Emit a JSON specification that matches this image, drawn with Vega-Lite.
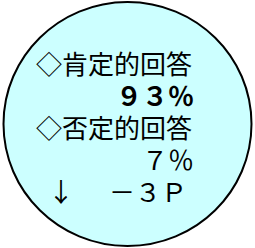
{
  "$schema": "https://vega.github.io/schema/vega-lite/v6.json",
  "width": 255,
  "height": 248,
  "autosize": {"type": "fit", "contains": "padding"},
  "padding": 0,
  "background": "white",
  "view": {"stroke": null},
  "data": {"values": [
    {"line": 1, "col": "left", "text": "◇肯定的回答"},
    {"line": 2, "col": "right", "text": "９３％"},
    {"line": 3, "col": "left", "text": "◇否定的回答"},
    {"line": 4, "col": "right", "text": "７％"},
    {"line": 5, "col": "left", "text": "↓"},
    {"line": 5, "col": "right", "text": "－３Ｐ"}
  ]},
  "encoding": {
    "x": {"field": "col", "type": "nominal", "scale": {"type": "point", "domain": ["left", "right"], "range": [35, 193], "padding": 0}, "axis": null},
    "y": {"field": "line", "type": "quantitative", "scale": {"domain": [1, 5], "range": [63, 191]}, "axis": null}
  },
  "layer": [
    {
      "data": {"values": [{"frame": "ellipse"}]},
      "mark": {"type": "point", "shape": "M-1,0A1,0.984,0,1,1,1,0A1,0.984,0,1,1,-1,0Z", "size": 61504, "filled": true, "fill": "#ccffff", "stroke": "black", "strokeWidth": 2, "opacity": 1, "fillOpacity": 1, "strokeOpacity": 1, "x": {"expr": "width/2"}, "y": {"expr": "height/2"}},
      "encoding": {"x": null, "y": null}
    },
    {
      "transform": [{"filter": "datum.col === 'left' && datum.text !== '↓'"}],
      "mark": {"type": "text", "align": "left", "baseline": "middle", "font": "Noto Sans CJK JP", "fontSize": 26, "color": "black"},
      "encoding": {"text": {"field": "text"}}
    },
    {
      "transform": [{"filter": "datum.text === '↓'"}],
      "mark": {"type": "text", "align": "center", "baseline": "middle", "font": "Noto Sans CJK JP", "fontSize": 26, "color": "black", "dx": 25},
      "encoding": {"text": {"field": "text"}}
    },
    {
      "transform": [{"filter": "datum.line === 2"}],
      "mark": {"type": "text", "align": "right", "baseline": "middle", "font": "Noto Sans CJK JP", "fontSize": 26, "fontWeight": "bold", "color": "black"},
      "encoding": {"text": {"field": "text"}}
    },
    {
      "transform": [{"filter": "datum.line === 4"}],
      "mark": {"type": "text", "align": "right", "baseline": "middle", "font": "Noto Sans CJK JP", "fontSize": 26, "color": "black"},
      "encoding": {"text": {"field": "text"}}
    },
    {
      "transform": [{"filter": "datum.line === 5 && datum.col === 'right'"}],
      "mark": {"type": "text", "align": "right", "baseline": "middle", "font": "Noto Sans CJK JP", "fontSize": 26, "color": "black", "dx": -7},
      "encoding": {"text": {"field": "text"}}
    }
  ]
}
